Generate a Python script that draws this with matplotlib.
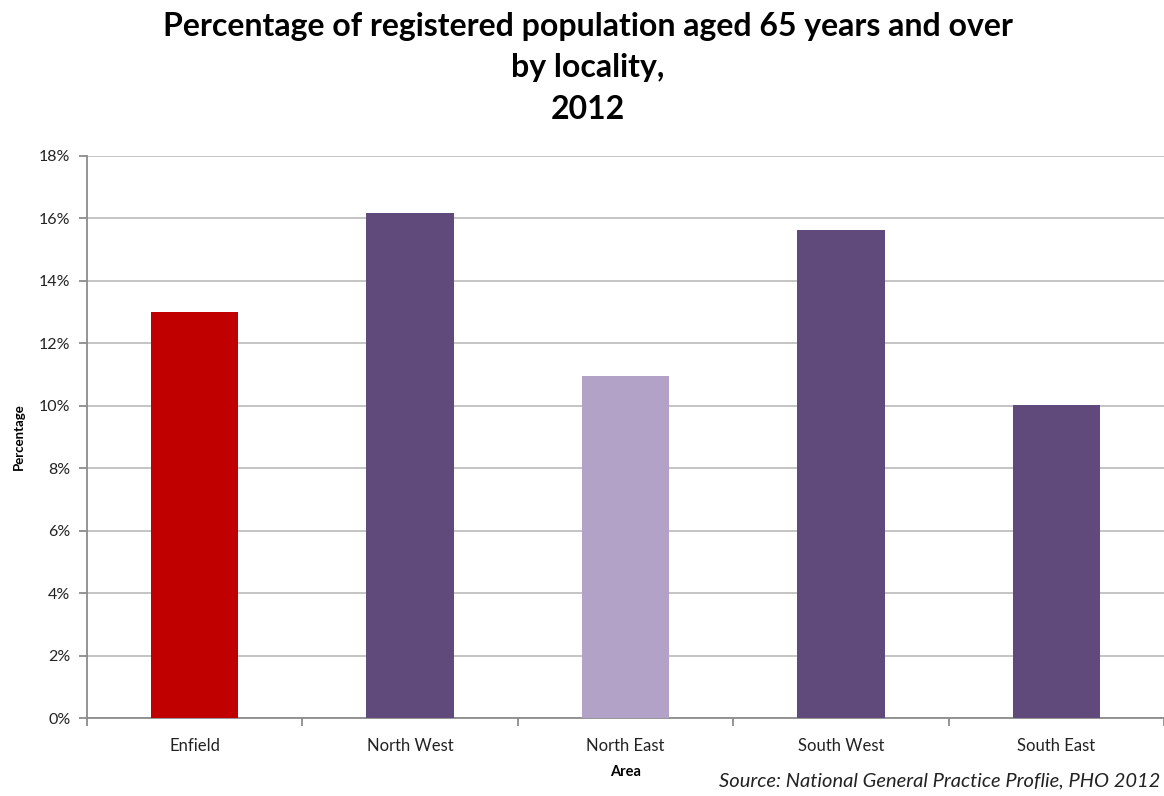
import matplotlib.pyplot as plt
from matplotlib.ticker import FuncFormatter, FixedLocator

plt.rcParams['font.family'] = ['Lato', 'DejaVu Sans']

# data
areas = ['Enfield', 'North West', 'North East', 'South West', 'South East']
pct_65_plus = [13.0, 16.15, 10.95, 15.62, 10.03]
bar_colours = ['#C00000', '#604A7B', '#B3A2C7', '#604A7B', '#604A7B']

fig = plt.figure(figsize=(11.64, 7.96), dpi=100)
ax = fig.add_axes([0.0747, 0.0976, 0.9253, 0.707])

x = range(len(areas))
ax.bar(x, pct_65_plus, width=0.405, color=bar_colours, zorder=3)

ax.set_xlim(-0.5, len(areas) - 0.5)
ax.set_ylim(0, 18)
ax.set_yticks(range(0, 19, 2))
ax.yaxis.set_major_formatter(FuncFormatter(lambda v, p: '%d%%' % v))
ax.grid(axis='y', color='#bfbfbf', linewidth=1.3, zorder=0)

# category labels centred, tick marks between categories
ax.set_xticks(list(x))
ax.set_xticklabels(areas)
ax.tick_params(axis='x', which='major', length=0, pad=14, labelsize=12, labelcolor='#222222')
ax.xaxis.set_minor_locator(FixedLocator([i - 0.5 for i in range(len(areas) + 1)]))
ax.tick_params(axis='x', which='minor', length=6, width=1.3, color='#8c8c8c')
ax.tick_params(axis='y', length=6, width=1.3, color='#8c8c8c', labelsize=11.5,
               labelcolor='#222222', pad=6)

for side in ['top', 'right']:
    ax.spines[side].set_visible(False)
for side in ['left', 'bottom']:
    ax.spines[side].set_color('#8c8c8c')
    ax.spines[side].set_linewidth(1.3)

ax.set_ylabel('Percentage', fontsize=9.5, fontweight='bold', labelpad=10)
ax.set_xlabel('Area', fontsize=10.5, fontweight='bold', labelpad=8)

fig.text(0.505, 0.985, 'Percentage of registered population aged 65 years and over\nby locality,\n2012',
         ha='center', va='top', fontsize=23, fontweight='bold', linespacing=1.52)
fig.text(0.997, 0.008, 'Source: National General Practice Proflie, PHO 2012',
         ha='right', va='bottom', fontsize=14.5, style='italic', color='#222222')

fig.savefig('out.png', dpi=100)
